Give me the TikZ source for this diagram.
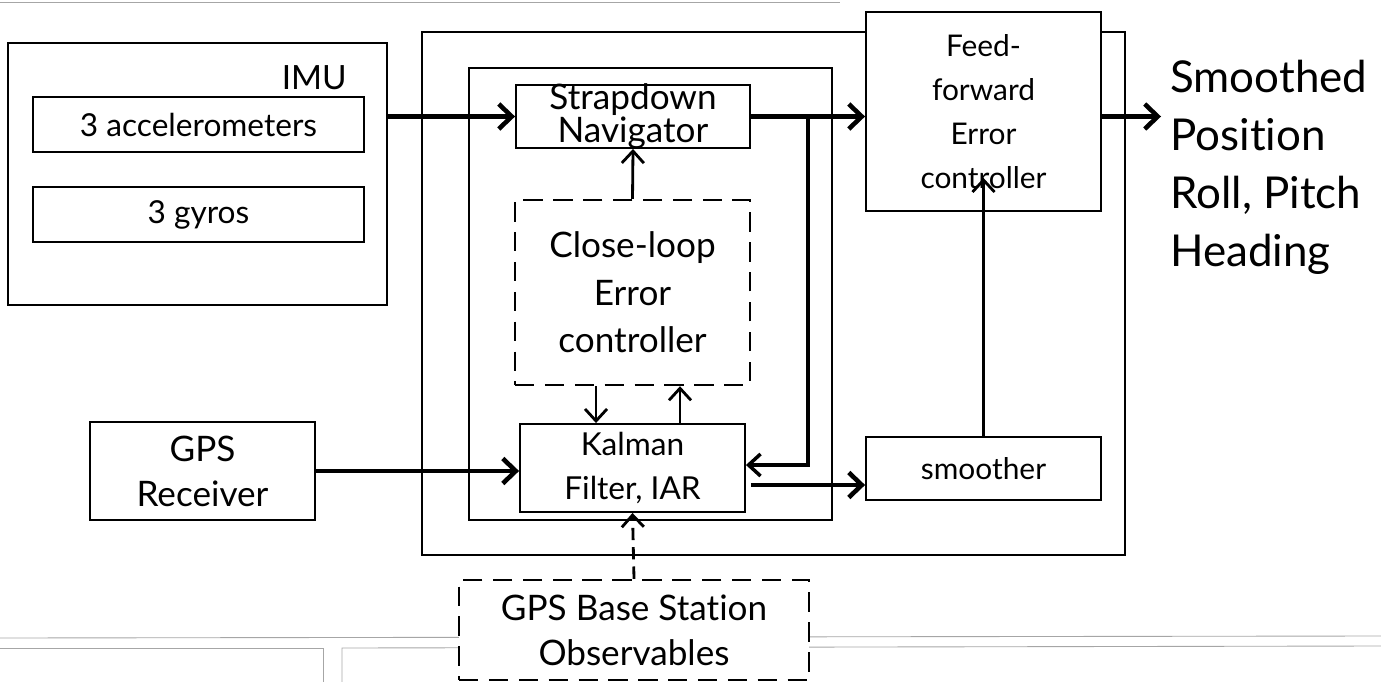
\documentclass[tikz,border=0pt]{standalone}
\usepackage{fontspec}
\setmainfont{Lato}[Ligatures=NoCommon]
\usetikzlibrary{arrows.meta, positioning, calc}

\begin{document}
\begin{tikzpicture}[
    x=0.02cm, y=-0.02cm,
    box/.style={draw, line width=1.1pt, inner sep=0pt, align=center},
    frame/.style={draw, line width=1.5pt, inner sep=0pt},
    dbox/.style={box, line width=1.4pt, dash pattern=on 11pt off 6pt},
    flow/.style={-{Straight Barb[length=2.6mm, width=5mm]}, line width=2.6pt},
    link/.style={-{Straight Barb[length=2.4mm, width=4.4mm]}, line width=1.6pt},
    scan/.style={draw=black!35, line width=0.5pt}
]
\useasboundingbox (0,0) rectangle (1381,682);

% scanned page edges
\draw[scan] (0,2) -- (840,2);
\draw[scan] (0,638) -- (1381,636);
\draw[scan] (0,648) -- (323,648) -- (323,682);
\draw[scan] (342,682) -- (342,648) -- (1381,646);

\node[frame, minimum width=7.58cm, minimum height=5.24cm] (imu) at (197.5,174) {};
\node[anchor=east, inner sep=0pt, font=\fontsize{19}{23}\selectfont] (imulbl) at (347,78) {IMU};
\node[box, minimum width=6.62cm, minimum height=1.1cm, font=\fontsize{18}{22}\selectfont] (acc) at (198.5,124.5) {3 accelerometers};
\node[box, minimum width=6.62cm, minimum height=1.1cm, font=\fontsize{18}{22}\selectfont] (gyro) at (198.5,214.5) {3 gyros};

\node[frame, minimum width=14.06cm, minimum height=10.46cm] (outer) at (773.5,293.5) {};
\node[frame, minimum width=7.26cm, minimum height=9.04cm] (inner) at (650.5,294) {};

\node[box, minimum width=4.68cm, minimum height=1.26cm,
    label={[align=center, font=\fontsize{20}{17.6}\selectfont]center:Strapdown\\Navigator}] (strap) at (633,116.5) {};
\node[dbox, minimum width=4.7cm, minimum height=3.7cm, font=\fontsize{20}{27}\selectfont] (closeloop) at (632.5,292.5) {Close-loop\\Error\\controller};
\node[box, minimum width=4.5cm, minimum height=1.76cm, font=\fontsize{18}{25.5}\selectfont] (kalman) at (632.5,468) {Kalman\\Filter, IAR};
\node[box, fill=white, minimum width=4.7cm, minimum height=3.98cm, font=\fontsize{17}{25}\selectfont] (ff) at (983.5,111.5) {Feed-\\forward\\Error\\controller};
\node[box, minimum width=4.7cm, minimum height=1.26cm, font=\fontsize{17}{20}\selectfont] (smoother) at (983.5,468.5) {smoother};
\node[box, line width=1.5pt, minimum width=4.5cm, minimum height=1.96cm, font=\fontsize{20}{25.5}\selectfont] (gps) at (202.5,471) {GPS\\Receiver};
\node[dbox, fill=white, minimum width=7cm, minimum height=2cm, font=\fontsize{20}{25.5}\selectfont] (base) at (634,630) {GPS Base Station\\Observables};
\node[anchor=west, align=left, inner sep=0pt, font=\fontsize{25}{33}\selectfont] (out) at (1170,167) {Smoothed\\Position\\Roll, Pitch\\Heading};

\coordinate (tap) at ($(strap.east)!.5!(strap.east -| ff.west)$);

\draw[flow] (imu.east |- strap.west) -- (strap.west);
\draw[flow] (strap.east) -- (strap.east -| ff.west);
\draw[flow] (strap.east -| ff.east) -- ([xshift=-0.18cm]strap.east -| out.west);
\draw[link, line width=2pt] (tap) |- ([yshift=0.06cm]kalman.east);
\draw[flow] ([xshift=0.1cm, yshift=-0.34cm]kalman.east) -- ([yshift=-0.34cm]kalman.east -| smoother.west);
\draw[link] (smoother.north) -- ([yshift=0.68cm]ff.south);
\draw[link] ([xshift=-0.73cm]closeloop.south) -- ([xshift=-0.73cm]closeloop.south |- kalman.north);
\draw[link] ([xshift=0.95cm]kalman.north) -- ([xshift=0.95cm]kalman.north |- closeloop.south);
\draw[link] (closeloop.north) -- (strap.south);
\draw[flow] (gps.east) -- (gps.east -| kalman.west);
\draw[link, dash pattern=on 7pt off 4pt] (base.north) -- (kalman.south);
\end{tikzpicture}
\end{document}
